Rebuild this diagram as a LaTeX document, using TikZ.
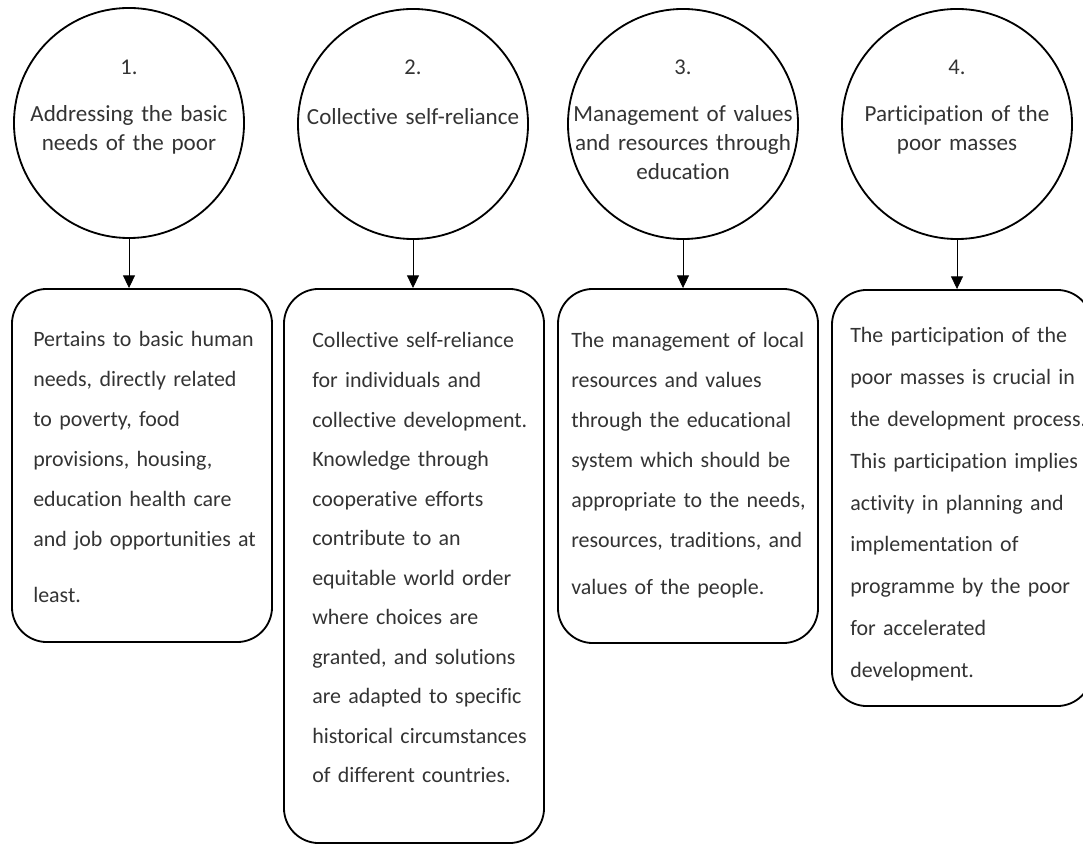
\documentclass[tikz,border=0pt]{standalone}
\usepackage{fontspec}
\setmainfont{Carlito}[Ligatures=NoCommon]
\usetikzlibrary{arrows.meta}

\begin{document}
\begin{tikzpicture}[x=0.025cm,y=-0.025cm,
    bubble/.style={draw,circle,line width=1.3pt,minimum size=5.75cm,inner sep=0pt},
    card/.style={draw,rounded corners=0.875cm,line width=1.3pt,minimum width=6.5cm,inner sep=0pt},
    numtext/.style={anchor=base,text=black!80,font=\fontsize{16}{20}\selectfont},
    headtext/.style={anchor=base,text=black!80,text width=6cm,align=center,inner sep=0pt,font=\fontsize{16.4}{20.6}\selectfont},
    bodytext/.style={anchor=base west,text=black!80,text width=7cm,align=left,inner sep=0pt,font=\fontsize{15.6}{28.4}\selectfont},
    link/.style={-{Triangle[length=9pt,width=8.5pt]},line width=0.6pt}]
      \useasboundingbox (0,0) rectangle (1083,845);
      % circles
      \node[bubble] (c1) at (129,123) {};
      \node[bubble] (c2) at (413,124) {};
      \node[bubble] (c3) at (683,124) {};
      \node[bubble] (c4) at (957,124) {};
      \node[numtext] (n1) at (129,75) {1.};
      \node[numtext] (n2) at (413,75) {2.};
      \node[numtext] (n3) at (683,75) {3.};
      \node[numtext] (n4) at (957,75) {4.};
      \node[headtext] (h1) at (129,122) {Addressing the basic\\needs of the poor};
      \node[headtext] (h2) at (413,125) {Collective self-reliance};
      \node[headtext] (h3) at (683,122) {Management of values\\and resources through\\education};
      \node[headtext] (h4) at (957,122) {Participation of the\\poor masses};
      % boxes
      \node[card,minimum height=8.825cm] (b1) at (142,465.5) {};
      \node[card,minimum height=13.85cm] (b2) at (414,566) {};
      \node[card,minimum height=8.85cm] (b3) at (688,466) {};
      \node[card,minimum height=10.4cm] (b4) at (962,498) {};
      \node[bodytext] (p1) at (33,347) {Pertains to basic human\\needs, directly related\\to poverty, food\\provisions, housing,\\education health care\\and job opportunities at\\[11.4pt]least.};
      \node[bodytext,font=\fontsize{15.6}{28.1}\selectfont] (p2) at (312,348) {Collective self-reliance\\for individuals and\\collective development.\\Knowledge through\\cooperative efforts\\contribute to an\\equitable world order\\where choices are\\granted, and solutions\\are adapted to specific\\historical circumstances\\of different countries.};
      \node[bodytext] (p3) at (571,348) {The management of local\\resources and values\\through the educational\\system which should be\\appropriate to the needs,\\resources, traditions, and\\[5pt]values of the people.};
      \node[bodytext,font=\fontsize{15.6}{29.7}\selectfont] (p4) at (850,343) {The participation of the\\poor masses is crucial in\\the development process.\\This participation implies\\activity in planning and\\implementation of\\programme by the poor\\for accelerated\\development.};
      % arrows
      \draw[link] (c1.south) -- (c1.south |- b1.north);
      \draw[link] (c2.south) -- (c2.south |- b2.north);
      \draw[link] (c3.south) -- (c3.south |- b3.north);
      \draw[link] (c4.south) -- (c4.south |- b4.north);
    \end{tikzpicture}
\end{document}
